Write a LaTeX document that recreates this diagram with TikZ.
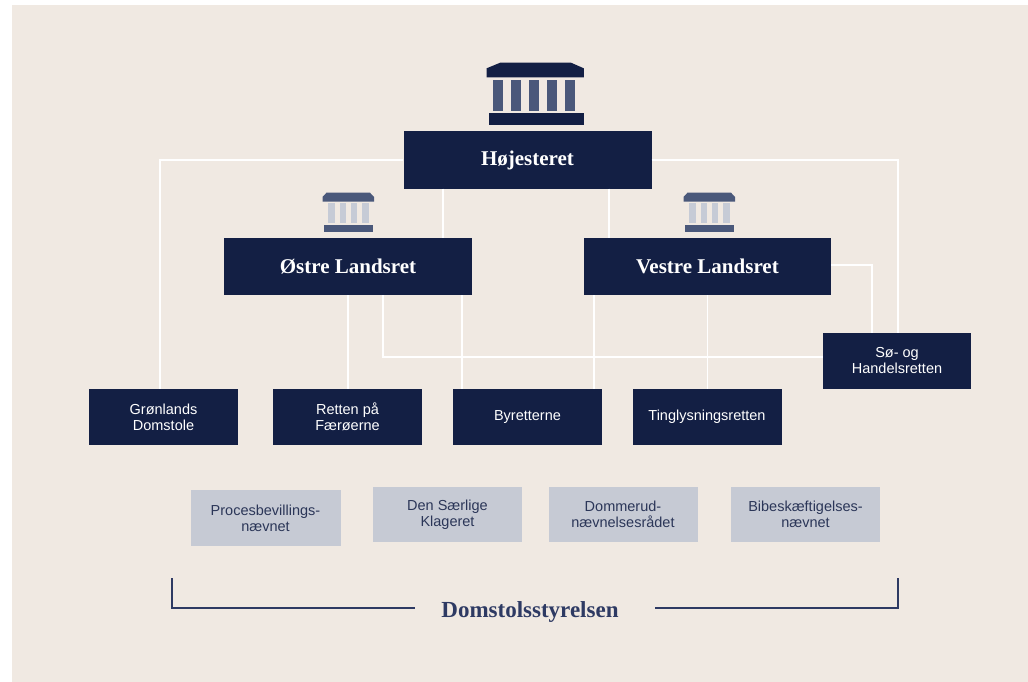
\documentclass[tikz,border=0pt]{standalone}
\usepackage{fontspec}
\setmainfont{Liberation Serif}
\setsansfont{Liberation Sans}
\definecolor{navy}{HTML}{131F44}
\definecolor{beige}{HTML}{F0E9E2}
\definecolor{pillar}{HTML}{4A587A}
\definecolor{pillarlight}{HTML}{C6CBD6}
\definecolor{boardgray}{HTML}{C6CAD4}
\definecolor{boardtext}{HTML}{2B3658}
\definecolor{bracketblue}{HTML}{2E3A63}
\begin{document}
\begin{tikzpicture}[x=1pt,y=-1pt,
    court/.style={fill=navy,text=white,inner sep=0pt,minimum width=149pt,minimum height=56pt,align=center,font=\sffamily\fontsize{14.5}{16}\selectfont},
    high/.style={court,minimum width=248pt,minimum height=57pt,font=\bfseries\fontsize{21}{24}\selectfont},
    board/.style={court,fill=boardgray,text=boardtext},
    link/.style={draw=white,line width=1.5pt},
    bracket/.style={draw=bracketblue,line width=1.6pt}]
    \useasboundingbox (0,0) rectangle (1028,682);
    \fill[white] (0,0) rectangle (1028,682);
    \fill[beige] (12,5) rectangle (1028,682);
    \fill[navy] (486.6,77.3) -- (486.6,68.3) -- (500.2,62.7) -- (571,62.7) -- (583.8,68.3) -- (583.8,77.3) -- cycle;
    \foreach \c in {497.8,515.8,534.2,552.2,570.2}
        \fill[pillar] (\c-4.8,80) rectangle (\c+4.8,110.7);
    \fill[navy] (489,113.3) rectangle (584,125);
    \foreach \c in {348.5,709.5} {
        \fill[pillar] (\c-26,201.7) -- (\c-26,197) -- (\c-22,192.7) -- (\c+21.5,192.7) -- (\c+25.5,197) -- (\c+25.5,201.7) -- cycle;
        \foreach \d in {-17,-5.7,5.7,17}
            \fill[pillarlight] (\c+\d-3.1,203.3) rectangle (\c+\d+3.1,222.7);
        \fill[pillar] (\c-25,225) rectangle (\c+24.5,232.3);
    }
    \node[high] (hoj) at (527.5,160) {Højesteret};
    \node[high] (ostre) at (348,266.5) {Østre Landsret};
    \node[high,minimum width=247pt] (vestre) at (707.5,266.5) {Vestre Landsret};
    \node[court] (gron) at (163.5,417) {Grønlands\\Domstole};
    \node[court] (faer) at (347.5,417) {Retten på\\Færøerne};
    \node[court] (byret) at (527.5,417) {Byretterne};
    \node[court] (tingl) at (707,417) {Tinglysningsretten};
    \node[court,minimum width=148pt] (soeg) at (897,361) {Sø- og\\Handelsretten};
    \node[board,minimum width=150pt] (proc) at (265.5,518) {Procesbevillings-\\nævnet};
    \node[board,minimum height=55pt] (saer) at (447.5,514.5) {Den Særlige\\Klageret};
    \node[board,minimum height=55pt] (dom) at (623,514.5) {Dommerud-\\nævnelsesrådet};
    \node[board,minimum height=55pt] (bib) at (805.5,514.5) {Bibeskæftigelses-\\nævnet};
    \draw[link] (hoj.west) -| ([xshift=-3.5pt]gron.north);
    \draw[link] (hoj.east) -| ([xshift=1pt]soeg.north);
    \draw[link] ([xshift=-84.5pt]hoj.south) -- ([xshift=95pt]ostre.north);
    \draw[link] ([xshift=81.5pt]hoj.south) -- ([xshift=-98.5pt]vestre.north);
    \draw[link] (ostre.south) -- (ostre.south |- faer.north);
    \draw[link] ([xshift=35pt]ostre.south) |- ([yshift=4pt]soeg.west);
    \draw[link] ([xshift=114pt]ostre.south) -- ([xshift=-65.5pt]byret.north);
    \draw[link] ([xshift=-113.5pt]vestre.south) -- ([xshift=66.5pt]byret.north);
    \draw[link] (vestre.south) -- (vestre.south |- tingl.north);
    \draw[link] ([yshift=1.5pt]vestre.east) -| ([xshift=-25pt]soeg.north);
    \coordinate (bl) at (172,578);
    \coordinate (br) at (898,578);
    \node[inner sep=0pt,text=bracketblue,font=\bfseries\fontsize{23}{26}\selectfont] (dst) at (530,611.5) {Domstolsstyrelsen};
    \draw[bracket] (bl) |- ([xshift=-26pt,yshift=3.5pt]dst.west);
    \draw[bracket] (br) |- ([xshift=36pt,yshift=3.5pt]dst.east);
\end{tikzpicture}
\end{document}
